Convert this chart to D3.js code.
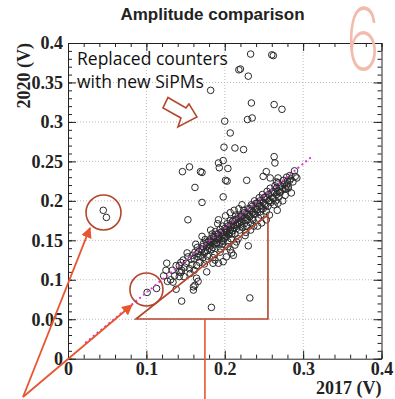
<!DOCTYPE html>
<html>
<head>
<meta charset="utf-8">
<script src="https://cdn.jsdelivr.net/npm/d3@7"></script>
<style>
  body { margin: 0; background: #fff; }
</style>
</head>
<body>
<div id="chart"></div>
<script>
// ---- data ----
const xTicks = [0, 0.1, 0.2, 0.3, 0.4]
const yTicks = [0, 0.05, 0.1, 0.15, 0.2, 0.25, 0.3, 0.35, 0.4]

// points away from the main band
const outlierPts = [
  [0.233,0.386],[0.26,0.385],[0.262,0.384],[0.218,0.366],[0.220,0.367],[0.23,0.358],
  [0.182,0.34],[0.234,0.324],[0.263,0.322],[0.273,0.316],[0.2,0.301],[0.229,0.303],
  [0.235,0.305],[0.207,0.286],[0.199,0.268],[0.213,0.267],[0.224,0.265],[0.263,0.256],
  [0.264,0.248],[0.146,0.237],[0.155,0.243],[0.169,0.237],[0.171,0.236],[0.162,0.217],
  [0.171,0.198],[0.153,0.176],[0.192,0.248],[0.198,0.251],[0.193,0.242],[0.201,0.226],
  [0.203,0.225],[0.198,0.205],[0.204,0.241],[0.228,0.226],[0.253,0.237],[0.249,0.231],
  [0.258,0.229],[0.268,0.229],[0.266,0.224],[0.29,0.231],[0.283,0.226],[0.279,0.22],
  [0.281,0.216],[0.277,0.216],[0.27,0.21],[0.268,0.197],
  [0.045,0.188],[0.049,0.179],[0.101,0.084],[0.113,0.089],
  [0.126,0.121],[0.131,0.1],[0.142,0.104],[0.144,0.109],[0.142,0.11],[0.138,0.088],
  [0.145,0.073],[0.16,0.087],[0.162,0.093],[0.166,0.098],[0.16,0.091],[0.177,0.11],
  [0.183,0.065],[0.232,0.077],[0.164,0.102],
  [0.23,0.143],[0.213,0.144],[0.211,0.131],[0.202,0.129],[0.198,0.123],[0.192,0.121],
  [0.1875,0.125],[0.185,0.121],[0.209,0.134],[0.207,0.138]
]

// dense band along the fit
const bandPts = [
  [0.122,0.105],[0.127,0.098],[0.125,0.112],
  [0.133,0.112],[0.136,0.105],[0.138,0.118],[0.134,0.097],
  [0.142,0.118],[0.145,0.112],[0.147,0.125],[0.148,0.104],[0.144,0.122],[0.149,0.116],
  [0.151,0.121],[0.153,0.129],[0.155,0.114],[0.157,0.126],[0.152,0.134],[0.158,0.119],[0.156,0.108],[0.159,0.131],
  [0.161,0.127],[0.162,0.135],[0.164,0.118],[0.165,0.141],[0.166,0.129],[0.168,0.122],[0.163,0.145],[0.167,0.136],[0.169,0.131],[0.161,0.112],
  [0.171,0.139],[0.172,0.128],[0.173,0.146],[0.174,0.134],[0.175,0.151],[0.176,0.125],[0.177,0.142],[0.178,0.137],[0.179,0.148],[0.171,0.155],[0.174,0.12],[0.178,0.13],
  [0.181,0.145],[0.182,0.152],[0.183,0.138],[0.184,0.158],[0.185,0.141],[0.186,0.149],[0.187,0.132],[0.188,0.155],[0.189,0.146],[0.182,0.163],[0.185,0.128],[0.188,0.161],[0.183,0.147],
  [0.191,0.152],[0.192,0.158],[0.193,0.145],[0.194,0.164],[0.195,0.139],[0.196,0.155],[0.197,0.168],[0.198,0.149],[0.199,0.16],[0.191,0.171],[0.194,0.135],[0.197,0.145],[0.192,0.176],[0.199,0.152],
  [0.201,0.163],[0.202,0.155],[0.203,0.171],[0.204,0.148],[0.205,0.166],[0.206,0.159],[0.207,0.175],[0.208,0.152],[0.209,0.168],[0.201,0.181],[0.204,0.142],[0.207,0.185],[0.203,0.16],[0.209,0.158],
  [0.211,0.169],[0.212,0.176],[0.213,0.158],[0.214,0.182],[0.215,0.165],[0.216,0.172],[0.217,0.152],[0.218,0.178],[0.219,0.163],[0.212,0.188],[0.215,0.148],[0.218,0.19],[0.214,0.17],
  [0.221,0.174],[0.222,0.182],[0.223,0.166],[0.224,0.188],[0.225,0.171],[0.226,0.179],[0.227,0.16],[0.228,0.185],[0.229,0.176],[0.222,0.195],[0.226,0.156],[0.228,0.168],
  [0.231,0.181],[0.232,0.19],[0.233,0.172],[0.234,0.195],[0.235,0.178],[0.236,0.186],[0.237,0.168],[0.238,0.2],[0.239,0.183],[0.233,0.163],[0.236,0.176],
  [0.241,0.189],[0.242,0.197],[0.243,0.178],[0.244,0.204],[0.245,0.186],[0.246,0.194],[0.247,0.172],[0.248,0.208],[0.249,0.19],[0.242,0.168],[0.246,0.182],
  [0.251,0.196],[0.252,0.205],[0.253,0.187],[0.254,0.212],[0.255,0.193],[0.256,0.2],[0.257,0.182],[0.258,0.216],[0.259,0.198],[0.253,0.176],
  [0.261,0.204],[0.262,0.212],[0.263,0.195],[0.264,0.219],[0.265,0.2],[0.266,0.208],[0.267,0.188],[0.268,0.223],[0.269,0.205],
  [0.271,0.211],[0.272,0.219],[0.274,0.2],[0.275,0.226],[0.277,0.207],[0.278,0.215],[0.279,0.23],
  [0.281,0.218],[0.283,0.232],[0.285,0.21],[0.287,0.224],[0.289,0.238],[0.292,0.229]
]

// extra points in the darkest part of the band
const corePts = [
  [0.165,0.133],[0.17,0.138],[0.172,0.142],[0.175,0.136],[0.177,0.147],[0.18,0.14],[0.18,0.15],
  [0.182,0.143],[0.184,0.149],[0.186,0.155],[0.187,0.145],[0.189,0.152],[0.19,0.158],[0.19,0.147],
  [0.193,0.154],[0.195,0.16],[0.196,0.149],[0.198,0.157],[0.2,0.165],[0.2,0.153],[0.202,0.161],
  [0.204,0.168],[0.205,0.157],[0.207,0.163],[0.208,0.17],[0.21,0.162],[0.21,0.174],[0.212,0.166],
  [0.214,0.176],[0.216,0.168],[0.217,0.18],[0.219,0.172],[0.22,0.18],[0.221,0.168],[0.223,0.177],
  [0.225,0.185],[0.227,0.175],[0.229,0.183],[0.23,0.19],[0.232,0.18],[0.234,0.188],[0.235,0.193],
  [0.237,0.183],[0.239,0.19],[0.24,0.197],[0.242,0.186],[0.244,0.193],[0.245,0.2],[0.247,0.19],
  [0.249,0.198],[0.25,0.204],[0.252,0.194],[0.254,0.202],[0.256,0.208],[0.258,0.2],[0.26,0.21],
  [0.262,0.203],[0.264,0.21],[0.266,0.216],[0.268,0.212],[0.27,0.218],[0.273,0.214],[0.276,0.221],
  [0.28,0.225],[0.284,0.228]
]

// magenta fit line end points
const fitX = [0.022, 0.311]
const fitY = [0.02, 0.256]

// ---- layout ----
const W = 395, H = 399
const plotL = 68, plotR = 381.5, plotT = 43, plotB = 358.7

const x = d3.scaleLinear().domain([0, 0.4]).range([plotL, plotR])
const y = d3.scaleLinear().domain([0, 0.4]).range([plotB, plotT])

const svg = d3.select('#chart').append('svg')
  .attr('width', W).attr('height', H)
  .style('background', '#fff')

const ink = '#222'
const brown = '#b4452b'
const orange = '#e8562f'

// grid
svg.append('g').selectAll('line').data(xTicks.slice(1, -1)).join('line')
  .attr('x1', d => x(d)).attr('x2', d => x(d))
  .attr('y1', plotT).attr('y2', plotB)
  .attr('stroke', '#bbb').attr('stroke-dasharray', '1,2')
svg.append('g').selectAll('line').data(yTicks.slice(1, -1)).join('line')
  .attr('x1', plotL).attr('x2', plotR)
  .attr('y1', d => y(d)).attr('y2', d => y(d))
  .attr('stroke', '#bbb').attr('stroke-dasharray', '1,2')

// points
const allPts = outlierPts.concat(bandPts, corePts)
svg.append('g').selectAll('circle').data(allPts).join('circle')
  .attr('cx', d => x(d[0])).attr('cy', d => y(d[1]))
  .attr('r', 3.3)
  .attr('fill', 'none')
  .attr('stroke', '#2a2a2a')
  .attr('stroke-width', 1)

// fit line
svg.append('line')
  .attr('x1', x(fitX[0])).attr('y1', y(fitY[0]))
  .attr('x2', x(fitX[1])).attr('y2', y(fitY[1]))
  .attr('stroke', '#d23fd2').attr('stroke-width', 2)
  .attr('stroke-dasharray', '2,3')

// axes: major + minor ticks, all pointing inward like ROOT
const fmt = d => String(+d.toFixed(2))
const minorX = d3.range(0, 0.4001, 0.02)
const minorY = d3.range(0, 0.4001, 0.01)

function styleAxis(g) {
  g.selectAll('path, line').attr('stroke', ink)
  g.selectAll('text')
    .attr('font-family', 'Liberation Serif, serif')
    .attr('font-weight', 'bold')
    .attr('font-size', 18)
    .attr('fill', ink)
}

svg.append('g').attr('transform', 'translate(0,' + plotB + ')')
  .call(d3.axisBottom(x).tickValues(xTicks).tickSize(-8).tickSizeOuter(0).tickPadding(4).tickFormat(fmt))
  .call(styleAxis)
svg.append('g').attr('transform', 'translate(0,' + plotB + ')')
  .call(d3.axisBottom(x).tickValues(minorX).tickSize(-4).tickFormat(''))
  .call(g => g.select('.domain').remove()).call(styleAxis)

svg.append('g').attr('transform', 'translate(0,' + plotT + ')')
  .call(d3.axisTop(x).tickValues(xTicks).tickSize(-8).tickSizeOuter(0).tickFormat(''))
  .call(styleAxis)
svg.append('g').attr('transform', 'translate(0,' + plotT + ')')
  .call(d3.axisTop(x).tickValues(minorX).tickSize(-4).tickFormat(''))
  .call(g => g.select('.domain').remove()).call(styleAxis)

svg.append('g').attr('transform', 'translate(' + plotL + ',0)')
  .call(d3.axisLeft(y).tickValues(yTicks).tickSize(-8).tickSizeOuter(0).tickPadding(5).tickFormat(fmt))
  .call(styleAxis)
svg.append('g').attr('transform', 'translate(' + plotL + ',0)')
  .call(d3.axisLeft(y).tickValues(minorY).tickSize(-4).tickFormat(''))
  .call(g => g.select('.domain').remove()).call(styleAxis)

svg.append('g').attr('transform', 'translate(' + plotR + ',0)')
  .call(d3.axisRight(y).tickValues(yTicks).tickSize(-8).tickSizeOuter(0).tickFormat(''))
  .call(styleAxis)
svg.append('g').attr('transform', 'translate(' + plotR + ',0)')
  .call(d3.axisRight(y).tickValues(minorY).tickSize(-4).tickFormat(''))
  .call(g => g.select('.domain').remove()).call(styleAxis)

// titles
svg.append('text')
  .attr('x', 212.5).attr('y', 20)
  .attr('text-anchor', 'middle')
  .attr('font-family', 'Liberation Sans, Arial, sans-serif')
  .attr('font-weight', 'bold').attr('font-size', 17)
  .attr('fill', ink)
  .text('Amplitude comparison')

svg.append('text')
  .attr('transform', 'translate(30,' + plotT + ') rotate(-90)')
  .attr('text-anchor', 'end')
  .attr('font-family', 'Liberation Serif, serif')
  .attr('font-weight', 'bold').attr('font-size', 18)
  .attr('fill', ink)
  .text('2020 (V)')

svg.append('text')
  .attr('x', plotR).attr('y', 394)
  .attr('text-anchor', 'end')
  .attr('font-family', 'Liberation Serif, serif')
  .attr('font-weight', 'bold').attr('font-size', 18)
  .attr('fill', ink)
  .text('2017 (V)')

// big slide number
svg.append('text')
  .attr('x', 346).attr('y', 70)
  .attr('font-family', 'Inter, Open Sans, sans-serif')
  .attr('font-weight', 200).attr('font-size', 86)
  .attr('textLength', 34).attr('lengthAdjust', 'spacingAndGlyphs')
  .attr('fill', '#f2bcad')
  .text('6')

// ---- annotations (in data units) ----
const note = svg.append('text')
  .attr('font-family', 'Open Sans, Noto Sans, sans-serif')
  .attr('font-size', 17.5).attr('fill', '#111')
note.append('tspan').attr('x', x(0.0115)).attr('y', y(0.372)).text('Replaced counters')
note.append('tspan').attr('x', x(0.0115)).attr('y', y(0.343)).text('with new SiPMs')

const blockArrow = [[0.1276,0.331],[0.1505,0.3178],[0.1543,0.3228],[0.1645,0.3063],
  [0.1403,0.2936],[0.1441,0.3050],[0.1212,0.3178]]
svg.append('polygon')
  .attr('points', blockArrow.map(p => x(p[0]) + ',' + y(p[1])).join(' '))
  .attr('fill', 'none').attr('stroke', brown).attr('stroke-width', 1.6)

const circles = [[0.0453, 0.1853, 17.5], [0.1001, 0.0877, 16.5]]
svg.append('g').selectAll('circle').data(circles).join('circle')
  .attr('cx', d => x(d[0])).attr('cy', d => y(d[1])).attr('r', d => d[2])
  .attr('fill', 'none').attr('stroke', brown).attr('stroke-width', 1.6)

const tri = [[0.0867,0.0503],[0.2551,0.1821],[0.2551,0.0503]]
svg.append('polygon')
  .attr('points', tri.map(p => x(p[0]) + ',' + y(p[1])).join(' '))
  .attr('fill', 'none').attr('stroke', brown).attr('stroke-width', 1.6)

svg.append('line')
  .attr('x1', x(0.1747)).attr('x2', x(0.1747))
  .attr('y1', y(0.0503)).attr('y2', H)
  .attr('stroke', orange).attr('stroke-width', 1.6)

svg.append('defs').append('marker')
  .attr('id', 'head').attr('viewBox', '0 0 10 10')
  .attr('refX', 9).attr('refY', 5)
  .attr('markerWidth', 6).attr('markerHeight', 6)
  .attr('markerUnits', 'strokeWidth')
  .attr('orient', 'auto')
  .append('path').attr('d', 'M0,0L10,5L0,10z').attr('fill', orange)

const arrowStart = [-0.0574, -0.0485]
const arrowEnds = [[0.0281, 0.1657], [0.0816, 0.0681]]
svg.append('g').selectAll('line').data(arrowEnds).join('line')
  .attr('x1', x(arrowStart[0])).attr('y1', y(arrowStart[1]))
  .attr('x2', d => x(d[0])).attr('y2', d => y(d[1]))
  .attr('stroke', orange).attr('stroke-width', 1.8)
  .attr('marker-end', 'url(#head)')
</script>
</body>
</html>
